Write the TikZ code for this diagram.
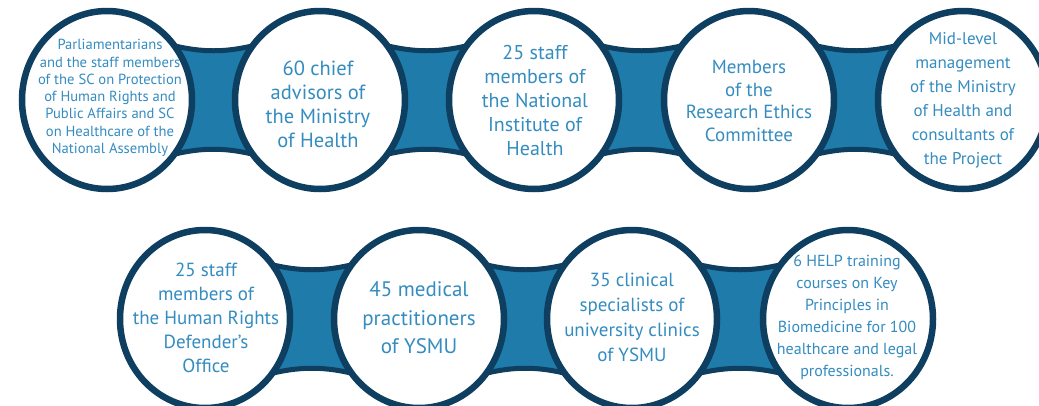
\documentclass[tikz,border=0pt]{standalone}
\usepackage{fontspec}
\setmainfont{PT Sans}
\usepackage{tikz}
\usetikzlibrary{shapes.geometric,backgrounds}
\definecolor{ringnavy}{RGB}{14,63,97}
\definecolor{linkblue}{RGB}{30,123,170}
\definecolor{textblue}{RGB}{52,140,192}
\tikzset{
  ring/.style={ellipse,draw=ringnavy,line width=6.5pt,fill=white,minimum width=170pt,minimum height=178pt,inner sep=0pt},
  txt/.style={text=textblue,align=center,inner sep=0pt},
  link/.style={draw=ringnavy,line width=5pt,fill=linkblue,line join=round},
}
% band between two rings
\newcommand{\ringlink}[2]{%
  \draw[link] ([shift={(40,-62)}]#1.center) .. controls ([shift={(92,-45)}]#1.center) and ([shift={(-92,-45)}]#2.center) .. ([shift={(-40,-62)}]#2.center)
    -- ([shift={(-40,62)}]#2.center) .. controls ([shift={(-92,45)}]#2.center) and ([shift={(92,45)}]#1.center) .. ([shift={(40,62)}]#1.center) -- cycle;}
\newcommand{\fs}[2]{\fontsize{#1}{#2}\selectfont}
\begin{document}
\begin{tikzpicture}[x=1pt,y=-1pt]
\useasboundingbox (0,0) rectangle (1039,405);
% top row
\node[ring] (r1) at (107,100) {};
\node[ring] (r2) at (320,100) {};
\node[ring] (r3) at (534,100) {};
\node[ring] (r4) at (749,100) {};
\node[ring] (r5) at (963,100) {};
% bottom row
\node[ring] (r6) at (205,319) {};
\node[ring] (r7) at (419,319) {};
\node[ring] (r8) at (632,319) {};
\node[ring] (r9) at (848,319) {};
\begin{pgfonlayer}{background}
\ringlink{r1}{r2}
\ringlink{r2}{r3}
\ringlink{r3}{r4}
\ringlink{r4}{r5}
\ringlink{r6}{r7}
\ringlink{r7}{r8}
\ringlink{r8}{r9}
\end{pgfonlayer}
\node[txt,font=\fs{14.6}{17.3}] (t1) at (110,98) {Parliamentarians\\and the staff members\\of the SC on Protection\\of Human Rights and\\Public Affairs and SC\\on Healthcare of the\\National Assembly};
\node[txt,font=\fs{20.5}{24}] (t2) at (318,104) {60 chief\\advisors of\\the Ministry\\of Health};
\node[txt,font=\fs{20}{24}] (t3) at (535,100) {25 staff\\members of\\the National\\Institute of\\Health};
\node[txt,font=\fs{19}{22.5}] (t4) at (749,101) {Members\\of the\\Research Ethics\\Committee};
\node[txt,font=\fs{17}{24}] (t5) at (963,100) {Mid-level\\management\\of the Ministry\\of Health and\\consultants of\\the Project};
\node[txt,font=\fs{19}{24}] (t6) at (206,318) {25 staff\\members of\\the Human Rights\\Defender’s\\Office};
\node[txt,font=\fs{21}{28.5}] (t7) at (419,318) {45 medical\\practitioners\\of YSMU};
\node[txt,font=\fs{19}{25}] (t8) at (632,317) {35 clinical\\specialists of\\university clinics\\of YSMU};
\node[txt,font=\fs{16}{22}] (t9) at (847,317) {6 HELP training\\courses on Key\\Principles in\\Biomedicine for 100\\healthcare and legal\\professionals.};
\end{tikzpicture}
\end{document}
